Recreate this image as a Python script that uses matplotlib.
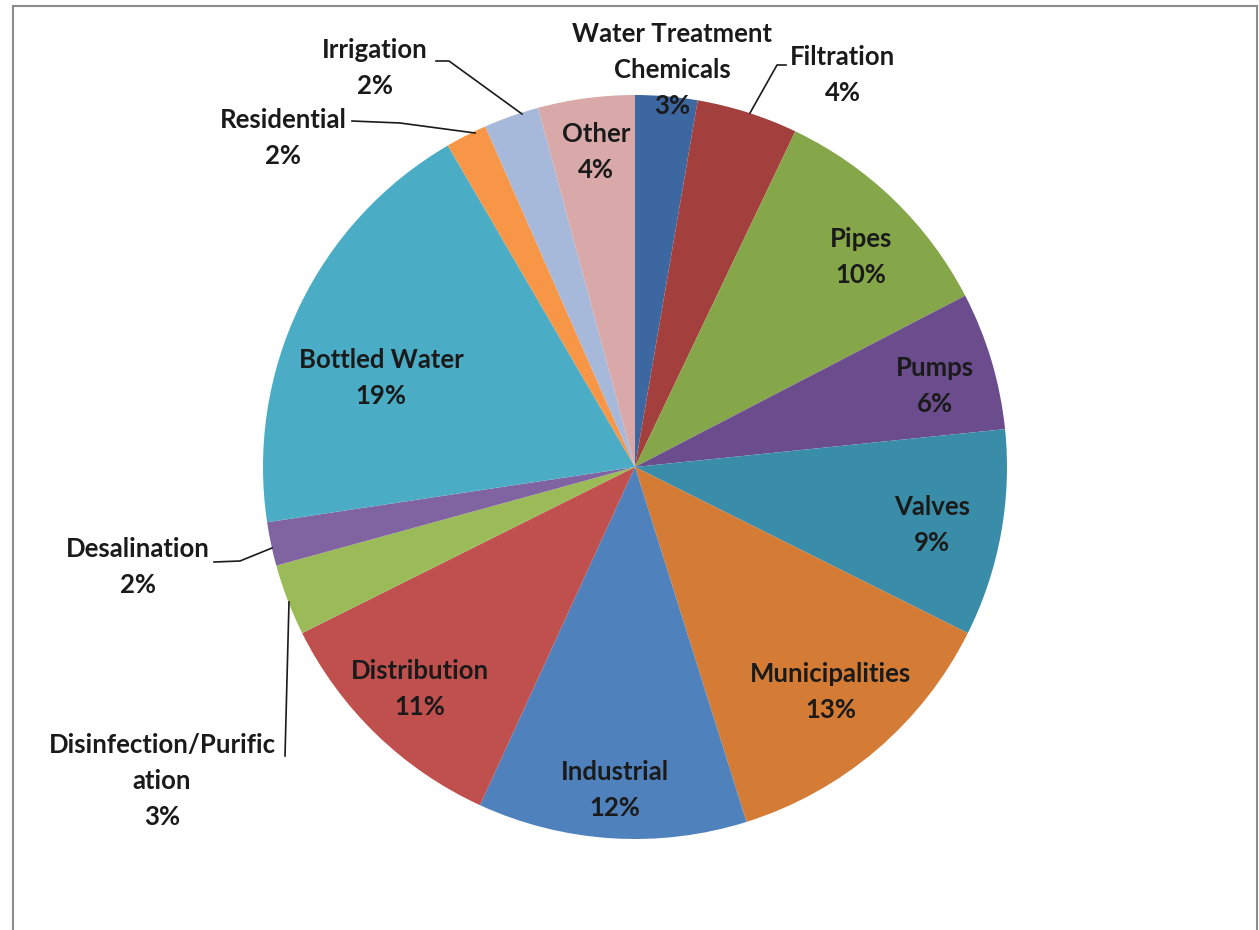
import matplotlib.pyplot as plt
from matplotlib.patches import Rectangle

# share of the water market by segment, clockwise from 12 o'clock
segments = ['Water Treatment\nChemicals', 'Filtration', 'Pipes', 'Pumps', 'Valves',
            'Municipalities', 'Industrial', 'Distribution', 'Disinfection/Purific\nation',
            'Desalination', 'Bottled Water', 'Residential', 'Irrigation', 'Other']
shares = [2.7, 4.4, 10.3, 6.0, 9.0, 12.8, 11.7, 10.8, 3.1, 1.9, 19.0, 1.8, 2.4, 4.2]
colors = ['#3D67A1', '#A3403E', '#86A64A', '#6B4D8E', '#3A8DA8', '#D47C35',
          '#4F81BD', '#C0504D', '#9BBB59', '#8064A2', '#4BACC6', '#F79646',
          '#A7B9DA', '#D9A9A9']

W, H = 1259, 930

# label centres in pixels from top-left (layout only)
label_pos = {
    'Water Treatment\nChemicals': (672, 70),
    'Filtration': (843, 75),
    'Pipes': (861, 257),
    'Pumps': (935, 386),
    'Valves': (932, 525),
    'Municipalities': (831, 692),
    'Industrial': (615, 790),
    'Distribution': (420, 689),
    'Disinfection/Purific\nation': (162, 781),
    'Desalination': (138, 567),
    'Bottled Water': (381, 378),
    'Residential': (283, 138),
    'Irrigation': (375, 68),
    'Other': (596, 152),
}

# leader lines for the labels sitting outside the pie
leaders = {
    'Filtration': [(750, 113), (777, 65), (786, 65)],
    'Residential': [(352, 121), (400, 123), (475, 133)],
    'Irrigation': [(436, 61), (449, 61), (522, 114)],
    'Desalination': [(214, 562), (240, 561), (272, 548)],
    'Disinfection/Purific\nation': [(289, 602), (285, 756)],
}

plt.rcParams['font.family'] = ['Lato', 'DejaVu Sans']

fig = plt.figure(figsize=(W / 100, H / 100), dpi=100)
ax = fig.add_axes([0, 0, 1, 1])

ax.pie(shares, colors=colors, startangle=90, counterclock=False,
       center=(635, H - 467), radius=372, frame=True,
       wedgeprops=dict(linewidth=0))
ax.set_xlim(0, W)
ax.set_ylim(0, H)
ax.set_aspect('equal')
ax.axis('off')

for name, share in zip(segments, shares):
    x, y = label_pos[name]
    ax.text(x, H - y, f'{name}\n{round(share)}%', ha='center', va='center',
            fontsize=18.5, fontweight='bold', color='#1a1a1a', linespacing=1.6)

for name, pts in leaders.items():
    ax.plot([p[0] for p in pts], [H - p[1] for p in pts], color='#1a1a1a', lw=1.2)

# chart area border
fig.patches.append(Rectangle((13 / W, -0.1), (W - 15) / W, (H - 6) / H + 0.1,
                             transform=fig.transFigure, fill=False,
                             edgecolor='#8c8c8c', lw=1.5))

plt.savefig('out.png', dpi=100)
